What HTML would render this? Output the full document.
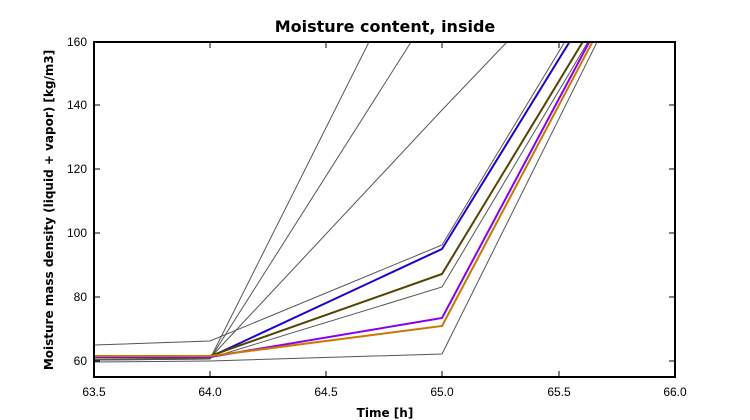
<!DOCTYPE html>
<html><head><style>body{margin:0;background:#fff}svg{display:block}</style></head><body>
<svg width="750" height="420" viewBox="0 0 750 420" xmlns="http://www.w3.org/2000/svg" font-family="Liberation Sans, DejaVu Sans, sans-serif">
<rect width="750" height="420" fill="#fff"/>
<defs><clipPath id="c"><rect x="94" y="42" width="581" height="335"/></clipPath></defs>
<g clip-path="url(#c)" fill="none">
<g stroke="#555" stroke-width="1">
<polyline points="94,360 210,359 380,20"/>
<polyline points="94,360 210,359 425,20"/>
<polyline points="94,360 210,358 442,110 528,20"/>
<polyline points="94,345 210,341 442,245 578,20"/>
<polyline points="94,359 210,358 442,287 601,20"/>
<polyline points="94,362 210,361 442,354 608,20"/>
</g>
<polyline stroke="#2200cc" stroke-width="2" points="94,357 210,357 442,249 583,20"/>
<polyline stroke="#554400" stroke-width="2" points="94,356 210,356 442,274 596,20"/>
<polyline stroke="#8800ee" stroke-width="2" points="94,357 210,357 442,318 601,20"/>
<polyline stroke="#cc7700" stroke-width="2" points="94,356 210,356 442,326 604,20"/>
</g>
<rect x="94" y="42" width="581" height="335" fill="none" stroke="#000" stroke-width="2"/>
<g stroke="#000" stroke-width="1">
<line x1="210" y1="377" x2="210" y2="371"/><line x1="326" y1="377" x2="326" y2="371"/><line x1="442" y1="377" x2="442" y2="371"/><line x1="559" y1="377" x2="559" y2="371"/>
<line x1="210" y1="42" x2="210" y2="48"/><line x1="326" y1="42" x2="326" y2="48"/><line x1="442" y1="42" x2="442" y2="48"/><line x1="559" y1="42" x2="559" y2="48"/>
<line x1="94" y1="361" x2="100" y2="361"/><line x1="94" y1="297" x2="100" y2="297"/><line x1="94" y1="233" x2="100" y2="233"/><line x1="94" y1="169" x2="100" y2="169"/><line x1="94" y1="105" x2="100" y2="105"/>
<line x1="675" y1="361" x2="669" y2="361"/><line x1="675" y1="297" x2="669" y2="297"/><line x1="675" y1="233" x2="669" y2="233"/><line x1="675" y1="169" x2="669" y2="169"/><line x1="675" y1="105" x2="669" y2="105"/>
</g>
<g font-size="12" fill="#000" text-anchor="middle">
<text x="94" y="396">63.5</text><text x="210" y="396">64.0</text><text x="326" y="396">64.5</text><text x="442" y="396">65.0</text><text x="559" y="396">65.5</text><text x="675" y="396">66.0</text>
</g>
<g font-size="12" fill="#000" text-anchor="end">
<text x="87" y="365">60</text><text x="87" y="301">80</text><text x="87" y="237">100</text><text x="87" y="173">120</text><text x="87" y="109">140</text><text x="87" y="46">160</text>
</g>
<text x="385" y="32" font-size="16" font-weight="bold" text-anchor="middle" font-family="DejaVu Sans, sans-serif">Moisture content, inside</text>
<text x="385" y="417" font-size="12" font-weight="bold" text-anchor="middle" font-family="DejaVu Sans, sans-serif">Time [h]</text>
<text transform="translate(53,210) rotate(-90)" font-size="12" font-weight="bold" text-anchor="middle" font-family="DejaVu Sans, sans-serif">Moisture mass density (liquid + vapor) [kg/m3]</text>
</svg>
</body></html>
